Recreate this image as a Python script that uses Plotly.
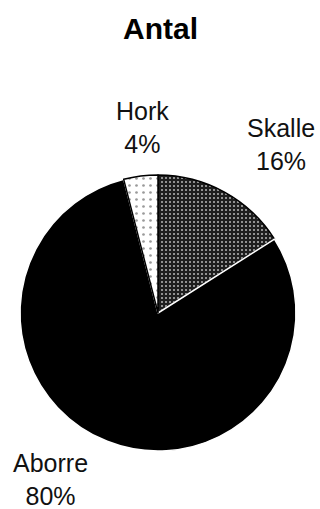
import plotly.graph_objects as go

# Catch composition by count
species = ["Skalle", "Aborre", "Hork"]
counts = [16, 80, 4]

# Label anchor points (pixels from top-left) for each species label
label_pos_px = {"Skalle": (281, 144), "Aborre": (50, 479), "Hork": (142, 127)}

W, H = 320, 509
cx, cy, r = 158, 313, 138

fig = go.Figure()
fig.add_trace(go.Pie(
    labels=species,
    values=counts,
    sort=False,
    direction="clockwise",
    rotation=0,
    textinfo="none",
    hoverinfo="label+percent",
    marker=dict(
        colors=["#222222", "#000000", "#f4f4f4"],
        line=dict(color=["#000000", "#ffffff", "#000000"], width=1.5),
        pattern=dict(
            shape=[".", "", "."],
            fgcolor=["#b8b8b8", "#000000", "#9a9a9a"],
            bgcolor=["#1e1e1e", "#000000", "#ffffff"],
            size=[4, 6, 7],
            solidity=[0.2, 0.1, 0.12],
        ),
    ),
    domain=dict(x=[(cx - r) / W, (cx + r) / W],
                y=[(H - cy - r) / H, (H - cy + r) / H]),
    showlegend=False,
))

total = sum(counts)
for name, v in zip(species, counts):
    px, py = label_pos_px[name]
    fig.add_annotation(
        x=px / W, y=1 - py / H, xref="paper", yref="paper",
        text=f"{name}<br>{round(100 * v / total)}%",
        showarrow=False, xanchor="center", yanchor="middle",
        font=dict(family="Liberation Sans, Arial, sans-serif", size=25, color="#111"),
    )

fig.add_annotation(
    x=0.5, y=1 - 29 / H, xref="paper", yref="paper",
    text="<b>Antal</b>", showarrow=False, xanchor="center", yanchor="middle",
    font=dict(family="Liberation Sans, Arial, sans-serif", size=30, color="#000"),
)

fig.update_layout(
    width=W, height=H,
    margin=dict(l=0, r=0, t=0, b=0),
    paper_bgcolor="white", plot_bgcolor="white",
)

fig.write_html("out.html")
